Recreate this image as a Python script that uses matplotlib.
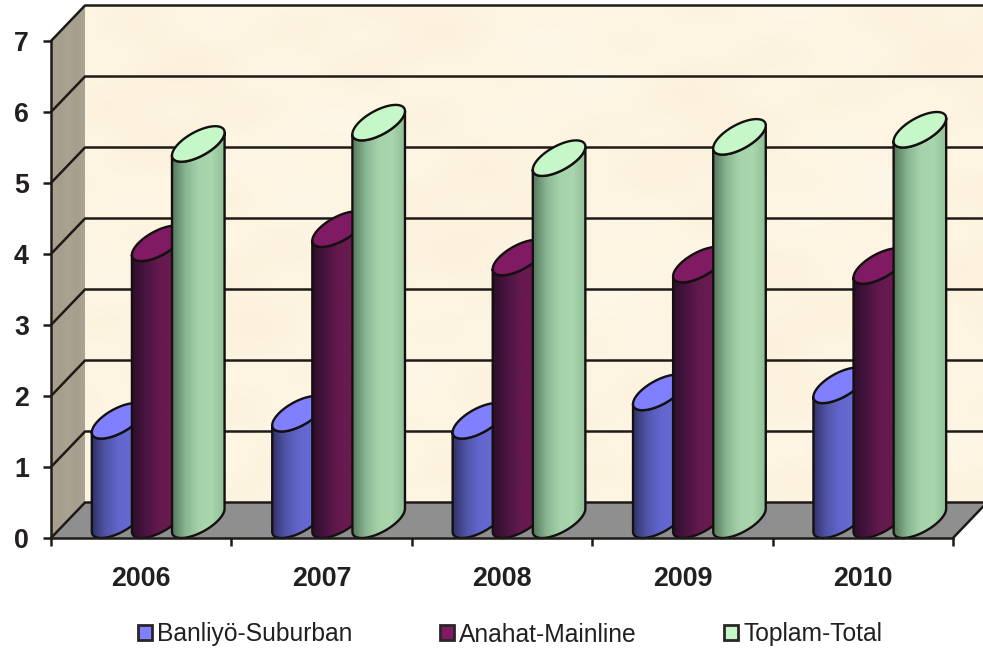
import numpy as np
import matplotlib
matplotlib.use("Agg")
import matplotlib.pyplot as plt
from matplotlib.colors import LinearSegmentedColormap
from matplotlib.patches import Polygon, Patch

years = ["2006", "2007", "2008", "2009", "2010"]
series_names = ["Banliyö-Suburban", "Anahat-Mainline", "Toplam-Total"]
suburban = [1.40, 1.50, 1.40, 1.80, 1.90]
mainline = [3.90, 4.10, 3.70, 3.60, 3.58]
total = [5.30, 5.60, 5.10, 5.40, 5.50]
series_values = [suburban, mainline, total]
y_ticks = [0, 1, 2, 3, 4, 5, 6, 7]

top_colors = ["#8080FF", "#801A62", "#C6F7C8"]
side_stops = [
    ["#303268", "#5054A6", "#6266CC", "#6569D2", "#585CBC"],
    ["#2E0E2B", "#481440", "#641A4E", "#6A1A50", "#5C1847"],
    ["#55785C", "#88B592", "#A6D2AA", "#A9D6AD", "#8FBE96"],
]

W, H = 983, 651
plt.rcParams["font.family"] = ["Liberation Sans", "DejaVu Sans"]
fig = plt.figure(figsize=(W / 100, H / 100), dpi=100, facecolor="white")
L, R, B, T = 51, 953, 538, 41
ax = fig.add_axes([L / W, 1 - B / H, (R - L) / W, (B - T) / H])
ax.set_facecolor("none")
ax.set_xlim(0, 5)
ax.set_ylim(0, 7)
XL, YL = (0, 5), (0, 7)

ddx = 34 / ((R - L) / 5)
ddy = 35.5 / ((B - T) / 7)
bar_w = 1 / 4.5


def clipped_image(data, extent, clip_poly, cmap=None, z=1):
    im = ax.imshow(data, extent=extent, aspect="auto", origin="lower", cmap=cmap,
                   interpolation="bilinear", zorder=z)
    patch = Polygon(clip_poly, closed=True, transform=ax.transData, fc="none", ec="none")
    im.set_clip_path(patch)
    im.set_clip_box(fig.bbox)
    return im


gx, gy = np.meshgrid(np.linspace(0, 1, 220), np.linspace(0, 1, 150))
mottle = (np.sin(21 * gx + 3 * gy + 0.4) + np.sin(13 * gy - 9 * gx + 1.2)
          + 0.7 * np.sin(37 * gx + 29 * gy) + 0.7 * np.sin(43 * gy - 31 * gx + 2.0))
wall_cmap = LinearSegmentedColormap.from_list("wall", ["#FCF1DC", "#FDF4E1", "#FEF6E7"])
xmax_back = 5 + ddx
back = [(ddx, ddy), (xmax_back, ddy), (xmax_back, 7 + ddy), (ddx, 7 + ddy)]
clipped_image(mottle, (ddx, xmax_back, ddy, 7 + ddy), back, wall_cmap, z=1)

side_cmap = LinearSegmentedColormap.from_list("side", ["#A9A190", "#A69E8C", "#ABA392", "#A79F8D", "#ACA493"])
side = [(0, 0), (ddx, ddy), (ddx, 7 + ddy), (0, 7)]
clipped_image(np.linspace(0, 1, 128)[None, :], (0, ddx, 0, 7 + ddy), side, side_cmap, z=1)

ax.add_patch(Polygon([(0, 0), (5, 0), (5 + ddx, ddy), (ddx, ddy)], closed=True, fc="#8F8F8F",
                     ec="none", zorder=1, clip_on=False))

line_kw = dict(color="#1E1A18", lw=1.8, zorder=2, clip_on=False, solid_capstyle="round")
for v in y_ticks:
    ax.plot([0, ddx, xmax_back], [v, v + ddy, v + ddy], **line_kw)
ax.plot([5, 5 + ddx], [0, ddy], **line_kw)


def cylinder(cx, value, idx, z):
    hw = bar_w / 2
    hdx, hdy = ddx / 2, ddy / 2
    cx0, base, top = cx + hdx, hdy, value + hdy
    px_w, px_dx = hw * (R - L) / 5, hdx * (R - L) / 5
    t0 = np.arctan2(px_dx, px_w)

    def pt(t, cy):
        return np.column_stack([cx0 + hw * np.cos(t) + hdx * np.sin(t), cy + hdy * np.sin(t)])

    lower = np.linspace(t0 + np.pi, t0 + 2 * np.pi, 60)
    body = np.vstack([pt(lower, base), pt(lower[::-1], top)])
    x_half = np.hypot(hw, hdx)
    cmap = LinearSegmentedColormap.from_list(f"c{idx}", side_stops[idx])
    clipped_image(np.linspace(0, 1, 128)[None, :], (cx0 - x_half, cx0 + x_half, 0, top + hdy),
                  body, cmap, z=z)
    ax.add_patch(Polygon(body, closed=True, fc="none", ec="#141010", lw=1.7, zorder=z + 0.1,
                         clip_on=False, joinstyle="round"))
    full = np.linspace(0, 2 * np.pi, 120)
    ax.add_patch(Polygon(pt(full, top), closed=True, fc=top_colors[idx], ec="#141010", lw=1.7,
                         zorder=z + 0.2, clip_on=False))


z = 3
for i in range(len(years)):
    for s, vals in enumerate(series_values):
        cylinder(i + 0.5 + (s - 1) * bar_w, vals[i], s, z)
        z += 1

ax.set_xlim(*XL)
ax.set_ylim(*YL)

for name in ("top", "right"):
    ax.spines[name].set_visible(False)
for name in ("left", "bottom"):
    ax.spines[name].set_linewidth(1.8)
    ax.spines[name].set_color("#1E1A18")
    ax.spines[name].set_zorder(200)
ax.set_yticks(y_ticks)
ax.set_xticks(range(6))
ax.set_xticklabels([])
ax.set_xticks([i + 0.5 for i in range(5)], minor=True)
ax.set_xticklabels(years, minor=True, fontsize=19.3, fontweight="bold", color="#231F20")
ax.tick_params(axis="x", which="minor", length=0, pad=20)
ax.tick_params(axis="x", which="major", length=6, width=1.8, color="#1E1A18")
ax.tick_params(axis="y", length=6, width=1.8, color="#1E1A18", pad=10, labelsize=19.3, labelcolor="#231F20")
for lab in ax.get_yticklabels():
    lab.set_fontweight("bold")

handles = [Patch(fc=c, ec="#2A2528", lw=2.0) for c in top_colors]
fig.legend(handles, series_names, ncol=3, loc="center", bbox_to_anchor=(510 / W, 1 - 634.5 / H),
           frameon=False, fontsize=17.7, handlelength=0.58, handleheight=0.58, handletextpad=0.2,
           columnspacing=3.55, labelcolor="#231F20", borderpad=0)

fig.savefig("out.png", dpi=100, facecolor="white")
